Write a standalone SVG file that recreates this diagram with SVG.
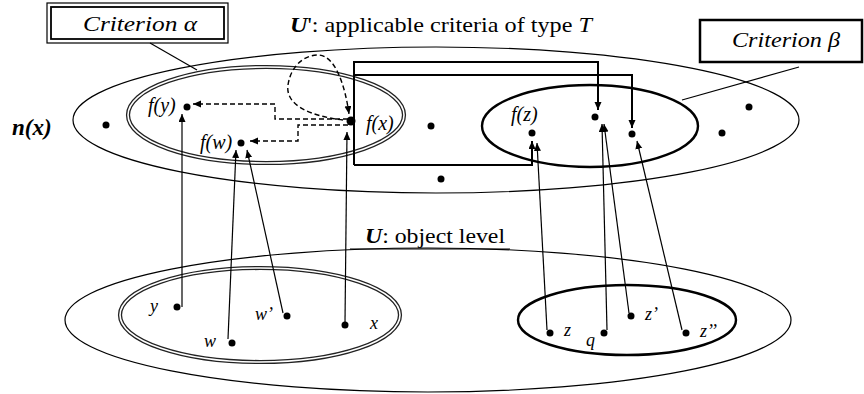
<svg xmlns="http://www.w3.org/2000/svg" width="864" height="394" viewBox="0 0 864 394">
<defs>
<style>
text{font-family:'Liberation Serif',Tinos,'Times New Roman',Times,serif;fill:#000}
.i{font-style:italic}
.b{font-weight:bold}
.thin{fill:none;stroke:#000;stroke-width:1.2}
.thick{fill:none;stroke:#000;stroke-width:2.4}
.dbl{fill:none;stroke:#222;stroke-width:4.2}
.dblw{fill:none;stroke:#fff;stroke-width:1.6}
.ln{fill:none;stroke:#000;stroke-width:1.2}
.lnb{fill:none;stroke:#000;stroke-width:2}
.dash{fill:none;stroke:#000;stroke-width:1.4;stroke-dasharray:5 3}
.dot{fill:#000}
</style>
<marker id="ah" markerUnits="userSpaceOnUse" markerWidth="9" markerHeight="8" refX="8" refY="3.5" orient="auto">
<path d="M0,0 L8,3.5 L0,7 z" fill="#000"/>
</marker>
</defs>

<g id="upper-set">
<ellipse class="thin" cx="436" cy="120" rx="363" ry="73"/>
</g>
<g id="criterion-alpha-upper">
<ellipse class="dbl" cx="266" cy="115" rx="138" ry="48"/>
<ellipse class="dblw" cx="266" cy="115" rx="138" ry="48"/>
</g>
<g id="criterion-beta-upper">
<ellipse class="thick" cx="590" cy="126" rx="108" ry="41"/>
</g>
<g id="lower-set">
<ellipse class="thin" cx="428" cy="320" rx="363" ry="72"/>
</g>
<g id="criterion-alpha-lower">
<ellipse class="dbl" cx="260" cy="315" rx="140" ry="47"/>
<ellipse class="dblw" cx="260" cy="315" rx="140" ry="47"/>
</g>
<g id="criterion-beta-lower">
<ellipse class="thick" cx="627" cy="320" rx="109" ry="35"/>
</g>

<g id="box-alpha">
<rect x="47" y="3" width="181" height="40" fill="#fff" stroke="#000" stroke-width="1.2"/>
<rect x="51" y="7" width="173" height="32" fill="none" stroke="#000" stroke-width="1.8"/>
<text class="i" font-family="Liberation Serif" x="140" y="31" font-size="20" text-anchor="middle" textLength="114" lengthAdjust="spacingAndGlyphs">Criterion α</text>
</g>
<g id="box-beta">
<rect x="700" y="20" width="162" height="42" fill="#fff" stroke="#000" stroke-width="2.5"/>
<text class="i" font-family="Liberation Serif" x="786" y="47" font-size="20" text-anchor="middle" textLength="108" lengthAdjust="spacingAndGlyphs">Criterion β</text>
</g>

<g id="titles">
<text font-family="Liberation Serif" x="290" y="32" font-size="22" textLength="302" lengthAdjust="spacingAndGlyphs"><tspan class="b i">U</tspan>': applicable criteria of type <tspan class="i">T</tspan></text>
<text font-family="Liberation Serif" x="365" y="243" font-size="22" textLength="140" lengthAdjust="spacingAndGlyphs"><tspan class="b i">U</tspan>: object level</text>
<text class="b i" font-family="Liberation Serif" x="12" y="135" font-size="23">n(x)</text>
</g>

<g id="connectors">
<line class="ln" x1="150" y1="43" x2="197" y2="70"/>
<line class="ln" x1="799" y1="67" x2="682" y2="100"/>
<line class="ln" x1="350" y1="249" x2="510" y2="249"/>

<path class="lnb" d="M354,165 V62 H598 V110" marker-end="url(#ah)"/>
<path class="lnb" d="M354,75 H632 V128" marker-end="url(#ah)"/>
<path class="lnb" d="M354,165 H532 V141" marker-end="url(#ah)"/>

<path class="dash" d="M348,119 H275 V104 H193" marker-end="url(#ah)"/>
<path class="dash" d="M348,125 H298 V141 H250" marker-end="url(#ah)"/>
<path class="dash" d="M343,120 C310,116 285,105 288,85 C291,65 305,55 318,55 C335,55 345,85 349,114" marker-end="url(#ah)"/>

<line class="ln" x1="182" y1="307" x2="182" y2="114" marker-end="url(#ah)"/>
<line class="ln" x1="228" y1="339" x2="236" y2="150" marker-end="url(#ah)"/>
<line class="ln" x1="283" y1="313" x2="247" y2="150" marker-end="url(#ah)"/>
<line class="ln" x1="345" y1="323" x2="347" y2="132" marker-end="url(#ah)"/>
<line class="ln" x1="547" y1="330" x2="537" y2="143" marker-end="url(#ah)"/>
<line class="ln" x1="607" y1="330" x2="602" y2="124" marker-end="url(#ah)"/>
<line class="ln" x1="629" y1="313" x2="604" y2="124" marker-end="url(#ah)"/>
<line class="ln" x1="682" y1="330" x2="637" y2="141" marker-end="url(#ah)"/>
</g>

<g id="n-fy"><circle class="dot" cx="187" cy="107" r="3.5"/><text class="i" font-family="Liberation Serif" x="148" y="112" font-size="20">f(y)</text></g>
<g id="n-fw"><circle class="dot" cx="241" cy="143" r="3.5"/><text class="i" font-family="Liberation Serif" x="200" y="149" font-size="20">f(w)</text></g>
<g id="n-fx"><circle class="dot" cx="351" cy="121" r="4.5"/><text class="i" font-family="Liberation Serif" x="366" y="130" font-size="20">f(x)</text></g>
<g id="n-fz"><circle class="dot" cx="532" cy="133" r="3.5"/><text class="i" font-family="Liberation Serif" x="511" y="121" font-size="20">f(z)</text></g>
<g id="n-b1"><circle class="dot" cx="595" cy="117" r="3.5"/></g>
<g id="n-b2"><circle class="dot" cx="632" cy="134" r="3.5"/></g>
<g id="n-p1"><circle class="dot" cx="106" cy="125" r="3.5"/></g>
<g id="n-p2"><circle class="dot" cx="431" cy="126" r="3.5"/></g>
<g id="n-p3"><circle class="dot" cx="441" cy="179" r="3.5"/></g>
<g id="n-p4"><circle class="dot" cx="749" cy="107" r="3.5"/></g>
<g id="n-p5"><circle class="dot" cx="722" cy="133" r="3.5"/></g>

<g id="n-y"><circle class="dot" cx="177" cy="307" r="3.5"/><text class="i" font-family="Liberation Serif" x="150" y="312" font-size="18">y</text></g>
<g id="n-w"><circle class="dot" cx="232" cy="343" r="3.5"/><text class="i" font-family="Liberation Serif" x="204" y="347" font-size="18">w</text></g>
<g id="n-w2"><circle class="dot" cx="287" cy="316" r="3.5"/><text class="i" font-family="Liberation Serif" x="255" y="320" font-size="18">w’</text></g>
<g id="n-x"><circle class="dot" cx="345" cy="325" r="3.5"/><text class="i" font-family="Liberation Serif" x="370" y="329" font-size="18">x</text></g>
<g id="n-z"><circle class="dot" cx="550" cy="333" r="3.5"/><text class="i" font-family="Liberation Serif" x="564" y="336" font-size="18">z</text></g>
<g id="n-q"><circle class="dot" cx="604" cy="333" r="3.5"/><text class="i" font-family="Liberation Serif" x="586" y="346" font-size="18">q</text></g>
<g id="n-z2"><circle class="dot" cx="631" cy="316" r="3.5"/><text class="i" font-family="Liberation Serif" x="645" y="320" font-size="18">z’</text></g>
<g id="n-z3"><circle class="dot" cx="686" cy="333" r="3.5"/><text class="i" font-family="Liberation Serif" x="700" y="337" font-size="18">z’’</text></g>
</svg>
